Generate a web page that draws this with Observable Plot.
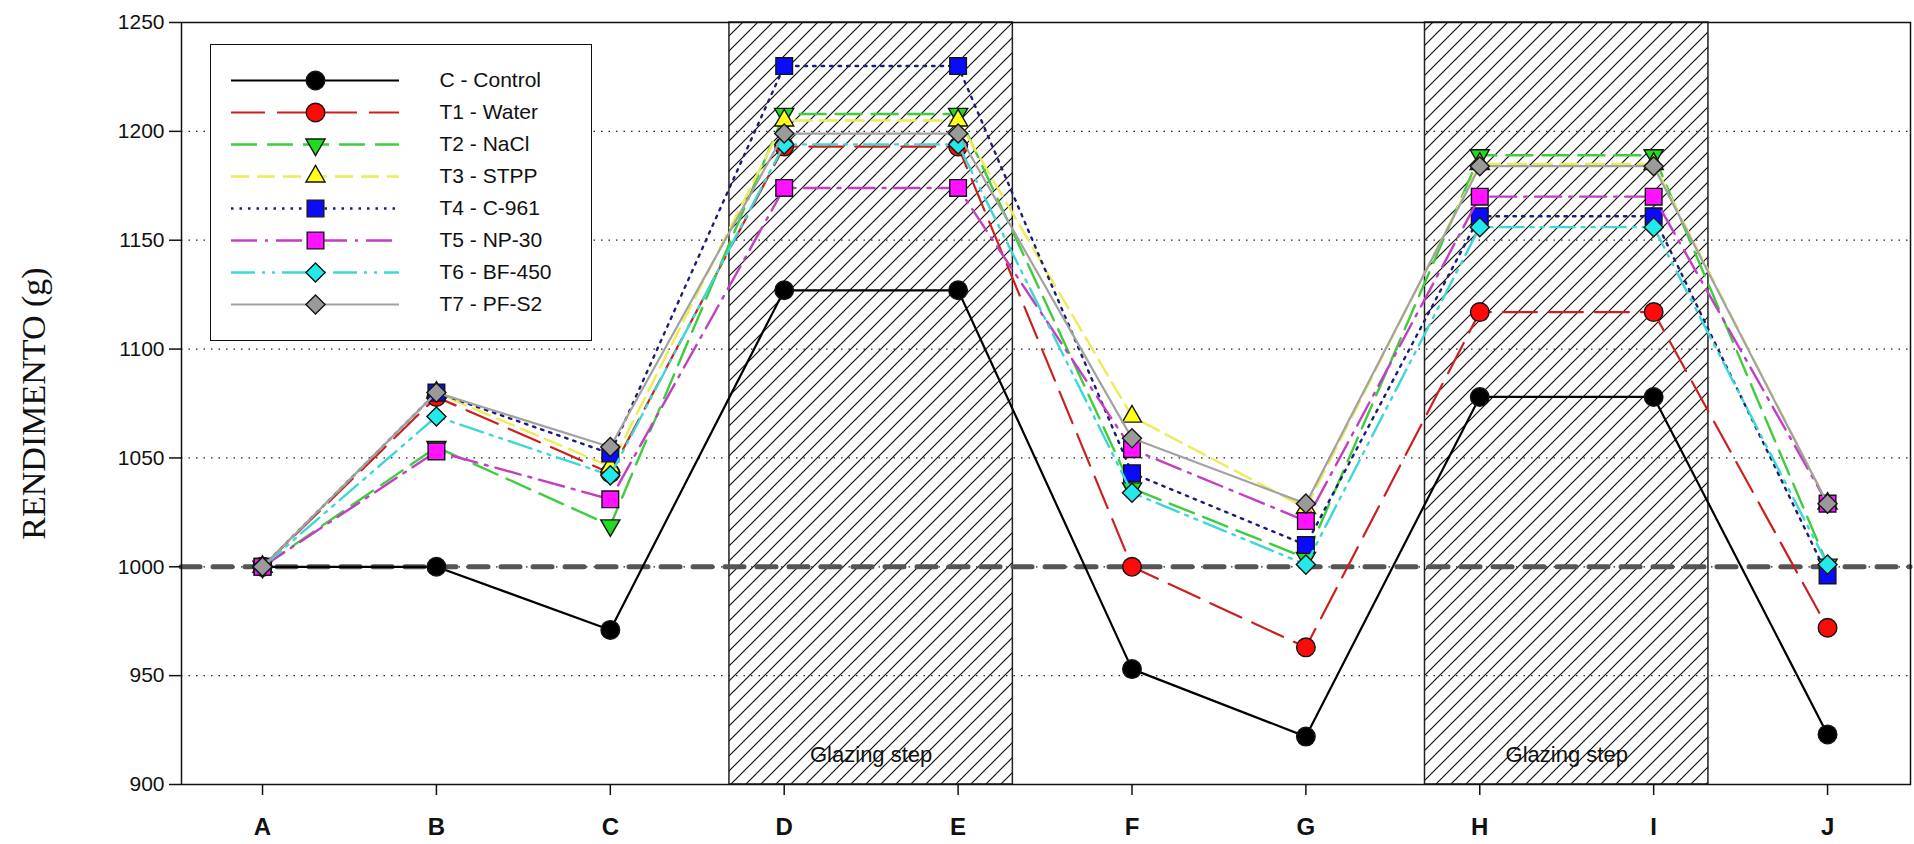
<!DOCTYPE html>
<html>
<head>
<meta charset="utf-8">
<script src="https://cdn.jsdelivr.net/npm/d3@7"></script>
<script src="https://cdn.jsdelivr.net/npm/@observablehq/plot@0.6"></script>
<style>
  body { margin: 0; background: #fff; }
  #chart { position: relative; width: 1914px; height: 844px; font-family: "Liberation Sans", Arial, sans-serif; }
  #legend { position: absolute; left: 210px; top: 44px; width: 380px; height: 295px; border: 1.5px solid #111; background: #fff; }
</style>
</head>
<body>
<div id="chart"><div id="legend"></div></div>
<script>
// Processing stages on the x axis
const categories = ["A", "B", "C", "D", "E", "F", "G", "H", "I", "J"];

// Yield (g) per treatment at each stage
const control = [1000, 1000, 971, 1127, 1127, 953, 922, 1078, 1078, 923];
const water   = [1000, 1078, 1043, 1193, 1193, 1000, 963, 1117, 1117, 972];
const nacl    = [1000, 1055, 1019, 1208, 1208, 1036, 1004, 1189, 1189, 1001];
const stpp    = [1000, 1080, 1046, 1205, 1205, 1069, 1027, 1185, 1185, 1029];
const c961    = [1000, 1080, 1052, 1230, 1230, 1043, 1010, 1161, 1161, 996];
const np30    = [1000, 1053, 1031, 1174, 1174, 1054, 1021, 1170, 1170, 1029];
const bf450   = [1000, 1069, 1042, 1194, 1194, 1034, 1001, 1156, 1156, 1001];
const pfs2    = [1000, 1080, 1055, 1199, 1199, 1059, 1029, 1184, 1184, 1029];

const seriesNames = ["C - Control", "T1 - Water", "T2 - NaCl", "T3 - STPP", "T4 - C-961", "T5 - NP-30", "T6 - BF-450", "T7 - PF-S2"];
const seriesValues = [control, water, nacl, stpp, c961, np30, bf450, pfs2];

const yTicks = [900, 950, 1000, 1050, 1100, 1150, 1200, 1250];
const gridValues = [950, 1000, 1050, 1100, 1150, 1200];
const baseline = 1000;
const yLabel = "RENDIMENTO (g)";

// Stages spent in the glazing tank
const glazingSteps = [
  {from: "D", to: "E", label: "Glazing step"},
  {from: "H", to: "I", label: "Glazing step"}
];

// Downward-pointing triangle symbol
const triangleDown = {
  draw(context, size) {
    const s3 = Math.sqrt(3);
    const y = -Math.sqrt(size / (s3 * 3));
    context.moveTo(0, -y * 2);
    context.lineTo(-s3 * y, y);
    context.lineTo(s3 * y, y);
    context.closePath();
  }
};

// Drawing style of each treatment
const styles = [
  {line: "#000000", width: 2.2, dash: null,            fill: "#000000", symbol: "circle",     r: 9.3},
  {line: "#cc2020", width: 2.2, dash: "34,12",         fill: "#ff0a0a", symbol: "circle",     r: 9.3},
  {line: "#3fcc3f", width: 2.4, dash: "26,10",         fill: "#1fdc1f", symbol: triangleDown, r: 7.1},
  {line: "#ecec55", width: 2.4, dash: "18,8",          fill: "#ffff1a", symbol: "triangle",   r: 7.1},
  {line: "#1c1c7a", width: 2.4, dash: "2.5,6",         fill: "#0a0aff", symbol: "square",     r: 9.4},
  {line: "#c23ec2", width: 2.4, dash: "26,8,3,8",      fill: "#ff12ff", symbol: "square",     r: 9.4},
  {line: "#3fd6d6", width: 2.4, dash: "24,7,3,7,3,7",  fill: "#22eaea", symbol: "diamond2",   r: 8.6},
  {line: "#a2a2a2", width: 2.2, dash: null,            fill: "#9a9a9a", symbol: "diamond2",   r: 8.6}
];

const idx = c => categories.indexOf(c);
const boxPad = 0.315;

const seriesMarks = seriesNames.flatMap((name, k) => {
  const rows = seriesValues[k].map((v, i) => ({series: name, i, value: v}));
  const st = styles[k];
  return [
    Plot.line(rows, {x: "i", y: "value", stroke: st.line, strokeWidth: st.width, strokeDasharray: st.dash ?? undefined}),
    Plot.dot(rows, {x: "i", y: "value", symbol: st.symbol, r: st.r, fill: st.fill, stroke: "#151515", strokeWidth: 1.4})
  ];
});

const chart = Plot.plot({
  width: 1914,
  height: 844,
  marginLeft: 181,
  marginRight: 4,
  marginTop: 22,
  marginBottom: 60,
  style: {fontFamily: "'Liberation Sans', Arial, sans-serif", background: "#fff", color: "#111", overflow: "visible"},
  x: {type: "linear", domain: [-0.466, 9.477], axis: null},
  y: {domain: [900, 1250], axis: null},
  marks: [
    Plot.rect(glazingSteps, {x1: d => idx(d.from) - boxPad, x2: d => idx(d.to) + boxPad, fill: "url(#glaze-hatch)", stroke: "#222", strokeWidth: 1.5}),
    Plot.ruleY(gridValues, {stroke: "#222", strokeWidth: 1.2, strokeDasharray: "1.5,6"}),
    Plot.ruleY([baseline], {stroke: "#555", strokeWidth: 5, strokeDasharray: "19,13", strokeLinecap: "round"}),
    Plot.text(glazingSteps, {x: d => (idx(d.from) + idx(d.to)) / 2, y: () => 900, dy: -30, text: "label", fontSize: 22, fill: "#111"}),
    ...seriesMarks,
    Plot.frame({stroke: "#111", strokeWidth: 1.5}),
    Plot.axisY({ticks: yTicks, tickFormat: d3.format("d"), tickSize: 12, tickPadding: 5, fontSize: 21, label: null, strokeWidth: 1.5}),
    Plot.axisX({ticks: d3.range(categories.length), tickFormat: i => categories[i], tickSize: 11, tickPadding: 22, fontSize: 24, fontWeight: "bold", label: null, strokeWidth: 1.5}),
    Plot.text([yLabel], {text: d => d, frameAnchor: "left", dx: -147, rotate: -90, textAnchor: "middle", fontSize: 34, fontFamily: "'Liberation Serif', 'Times New Roman', serif", fill: "#111"})
  ]
});

// Diagonal hatching for the glazing stages
const hatch = 15;
const defs = d3.select(chart).insert("defs", ":first-child");
const pat = defs.append("pattern")
  .attr("id", "glaze-hatch")
  .attr("patternUnits", "userSpaceOnUse")
  .attr("width", hatch).attr("height", hatch);
pat.append("rect").attr("width", hatch).attr("height", hatch).attr("fill", "#fff");
pat.append("path")
  .attr("d", `M0,${hatch}L${hatch},0M${-hatch / 4},${hatch / 4}L${hatch / 4},${-hatch / 4}M${hatch * 3 / 4},${hatch * 5 / 4}L${hatch * 5 / 4},${hatch * 3 / 4}`)
  .attr("stroke", "#111").attr("stroke-width", 1.2);

document.getElementById("chart").prepend(chart);

// Legend: sample line, marker and name for each treatment
const legendMarks = seriesNames.flatMap((name, k) => {
  const st = styles[k];
  return [
    Plot.ruleY([name], {y: d => d, x1: () => 20, x2: () => 188, stroke: st.line, strokeWidth: st.width, strokeDasharray: st.dash ?? undefined}),
    Plot.dot([name], {y: d => d, x: () => 104, symbol: st.symbol, r: st.r, fill: st.fill, stroke: "#151515", strokeWidth: 1.4})
  ];
});
const legend = Plot.plot({
  width: 380,
  height: 295,
  margin: 0,
  style: {fontFamily: "'Liberation Sans', Arial, sans-serif", background: "#fff", color: "#111", overflow: "visible"},
  x: {domain: [0, 380], axis: null},
  y: {type: "point", domain: seriesNames, range: [34.5, 259.2], padding: 0, axis: null},
  marks: [
    ...legendMarks,
    Plot.text(seriesNames, {x: () => 228, y: d => d, text: d => d, textAnchor: "start", fontSize: 21, fill: "#111"})
  ]
});
document.getElementById("legend").append(legend);
</script>
</body>
</html>
